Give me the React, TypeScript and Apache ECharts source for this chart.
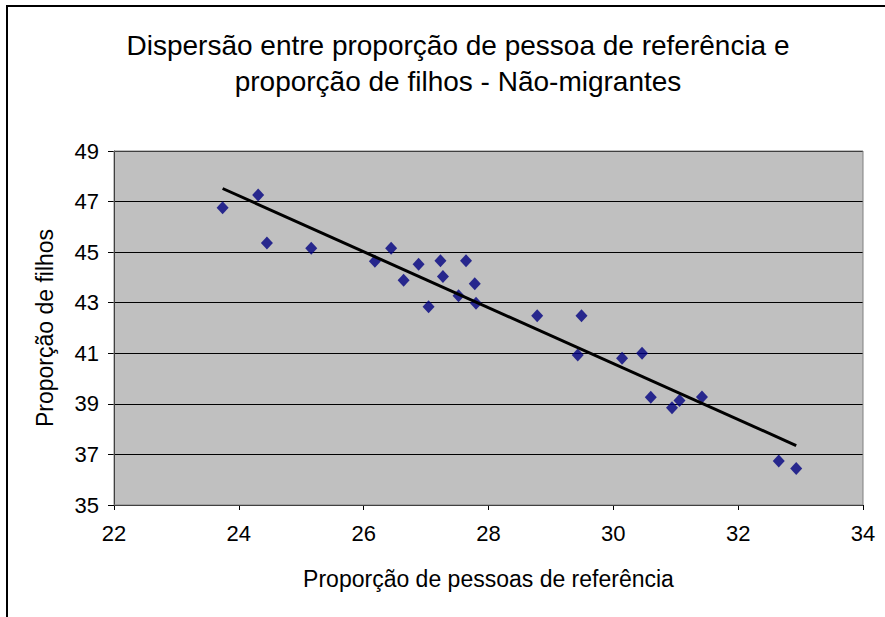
import React, { useEffect, useRef } from "react";
import * as echarts from "echarts";

const titleText = "Dispersão entre proporção de pessoa de referência e\nproporção de filhos - Não-migrantes";
const xAxisName = "Proporção de pessoas de referência";
const yAxisName = "Proporção de filhos";

const propReferencia: number[] = [
  23.74, 24.31, 24.45, 25.16, 26.18, 26.44, 26.88, 26.64, 27.23, 27.27, 27.04, 27.64, 27.78, 27.52, 27.8,
  28.78, 29.49, 29.43, 30.14, 30.46, 30.6, 30.94, 31.06, 31.42, 32.65, 32.93,
];
const propFilhos: number[] = [
  46.76, 47.26, 45.36, 45.15, 44.64, 45.15, 44.52, 43.89, 44.66, 44.04, 42.84, 44.66, 43.75, 43.28, 42.98,
  42.48, 42.48, 40.93, 40.8, 41.0, 39.26, 38.85, 39.13, 39.27, 36.74, 36.44,
];

const FONT = "'Liberation Sans', Arial, sans-serif";

function linearFit(xs: number[], ys: number[]) {
  const n = xs.length;
  const mx = xs.reduce((a, b) => a + b, 0) / n;
  const my = ys.reduce((a, b) => a + b, 0) / n;
  let sxy = 0;
  let sxx = 0;
  for (let i = 0; i < n; i++) {
    sxy += (xs[i] - mx) * (ys[i] - my);
    sxx += (xs[i] - mx) * (xs[i] - mx);
  }
  const b = sxy / sxx;
  const a = my - b * mx;
  return { a, b };
}

export default function App() {
  const ref = useRef<HTMLDivElement>(null);
  useEffect(() => {
    if (!ref.current) return;
    const chart = echarts.init(ref.current, null, { renderer: "svg" });
    const points = propReferencia.map((x, i) => [x, propFilhos[i]]);
    const { a, b } = linearFit(propReferencia, propFilhos);
    const xmin = Math.min(...propReferencia);
    const xmax = Math.max(...propReferencia);
    const trend = [
      [xmin, a + b * xmin],
      [xmax, a + b * xmax],
    ];
    chart.setOption({
      animation: false,
      backgroundColor: "#ffffff",
      title: {
        text: titleText,
        left: 453,
        textAlign: "center",
        top: 22,
        textStyle: {
          fontFamily: FONT,
          fontSize: 28,
          fontWeight: "normal",
          color: "#000",
          lineHeight: 36,
        },
      },
      graphic: [
        {
          type: "rect",
          shape: { x: 7, y: 6, width: 1000, height: 800 },
          style: { fill: "none", stroke: "#000", lineWidth: 2 },
          z: 100,
        },
        {
          type: "rect",
          shape: { x: 114, y: 151, width: 749, height: 354 },
          style: { fill: "none", stroke: "#808080", lineWidth: 1 },
          z: 1,
          silent: true,
        },
      ],
      grid: { left: 114, top: 151, width: 749, height: 354, show: true, backgroundColor: "#C0C0C0", borderWidth: 0 },
      xAxis: {
        type: "value",
        min: 22,
        max: 34,
        interval: 2,
        name: xAxisName,
        nameLocation: "middle",
        nameGap: 62,
        nameTextStyle: { fontFamily: FONT, fontSize: 23, color: "#000" },
        axisLine: { show: true, onZero: false, lineStyle: { color: "#000", width: 1 } },
        axisTick: { show: true, length: 5, lineStyle: { color: "#000" } },
        axisLabel: { fontFamily: FONT, fontSize: 22, color: "#000", margin: 17 },
        splitLine: { show: false },
      },
      yAxis: {
        type: "value",
        min: 35,
        max: 49,
        interval: 2,
        name: yAxisName,
        nameLocation: "middle",
        nameGap: 58,
        nameRotate: 90,
        nameTextStyle: { fontFamily: FONT, fontSize: 23, color: "#000" },
        axisLine: { show: true, onZero: false, lineStyle: { color: "#000", width: 1 } },
        axisTick: { show: true, length: 6, lineStyle: { color: "#000" } },
        axisLabel: { fontFamily: FONT, fontSize: 22, color: "#000", margin: 15 },
        splitLine: { show: true, lineStyle: { color: "#000", width: 1 } },
      },
      series: [
        {
          type: "scatter",
          data: points,
          symbol: "diamond",
          symbolSize: [12, 13],
          itemStyle: { color: "#000080" },
          z: 3,
        },
        {
          type: "line",
          data: trend,
          symbol: "none",
          lineStyle: { color: "#000", width: 3 },
          z: 4,
        },
      ],
    });
    return () => chart.dispose();
  }, []);
  return (
    <div
      ref={ref}
      style={{ position: "fixed", left: 0, top: 0, width: 885, height: 617 }}
    />
  );
}
